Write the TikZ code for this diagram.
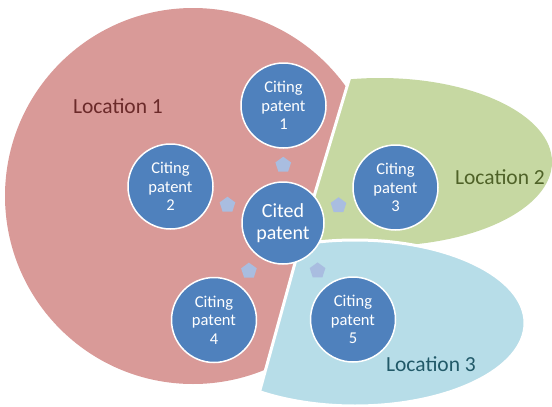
\documentclass[tikz,border=0pt]{standalone}
\usepackage{fontspec}
\setmainfont{Carlito}
\usetikzlibrary{shapes.geometric}
\definecolor{pinkreg}{HTML}{D99A98}
\definecolor{greenreg}{HTML}{C6D8A2}
\definecolor{bluereg}{HTML}{B7DDE8}
\definecolor{circblue}{HTML}{4F81BD}
\definecolor{arrowblue}{HTML}{A9BDE0}
\definecolor{locatext}{HTML}{6B2A2A}
\definecolor{locbtext}{HTML}{4F6228}
\definecolor{locctext}{HTML}{215968}
\begin{document}
\begin{tikzpicture}[x=1pt,y=-1pt,
  patent/.style={circle, fill=circblue, draw=white, line width=1.5pt, minimum size=85pt, inner sep=0pt, text=white, align=center, font=\fontsize{16.5}{18.5}\selectfont},
  citedpat/.style={patent, minimum size=82pt, font=\fontsize{20}{22}\selectfont},
  flowmark/.style={regular polygon, regular polygon sides=5, fill=arrowblue, minimum size=16.5pt, inner sep=0pt, shape border rotate=-90, sloped, allow upside down},
  loc/.style={font=\fontsize{21.5}{24}\selectfont, inner sep=0pt}]
\useasboundingbox (0,0) rectangle (552,407);
\coordinate (A) at (306,223);
\coordinate (R1) at (379,-20);
\coordinate (R2) at (249,430);
\begin{scope}
  \clip (R1) -- (A) -- (R2) -- (-20,430) -- (-20,-20) -- cycle;
  \fill[pinkreg] (193,196) circle[radius=188pt];
\end{scope}
\begin{scope}
  \clip (R1) -- (A) -- (R2) -- (600,430) -- (600,-20) -- cycle;
  \fill[greenreg] (380,162) ellipse[x radius=172pt, y radius=84pt];
  \filldraw[fill=bluereg, draw=white, line width=3pt] (355,323) ellipse[x radius=170pt, y radius=83pt];
\end{scope}
\draw[white, line width=3pt] (R1) -- (A) -- (R2);
\node[loc, text=locatext] (l1) at (118,106) {Location 1};
\node[loc, text=locbtext] (l2) at (500,177) {Location 2};
\node[loc, text=locctext] (l3) at (431,364) {Location 3};
\node[citedpat] (cited) at (283,223) {Cited\\patent};
\node[patent] (c1) at (283.5,105.5) {Citing\\patent\\1};
\node[patent] (c2) at (170.5,186.5) {Citing\\patent\\2};
\node[patent] (c3) at (395.5,187.5) {Citing\\patent\\3};
\node[patent] (c4) at (214,320) {Citing\\patent\\4};
\node[patent] (c5) at (353,319.5) {Citing\\patent\\5};
\path (cited) -- node[flowmark] {} (c1);
\path (cited) -- node[flowmark] {} (c2);
\path (cited) -- node[flowmark] {} (c3);
\path (cited) -- node[flowmark] {} (c4);
\path (cited) -- node[flowmark] {} (c5);
\end{tikzpicture}
\end{document}
